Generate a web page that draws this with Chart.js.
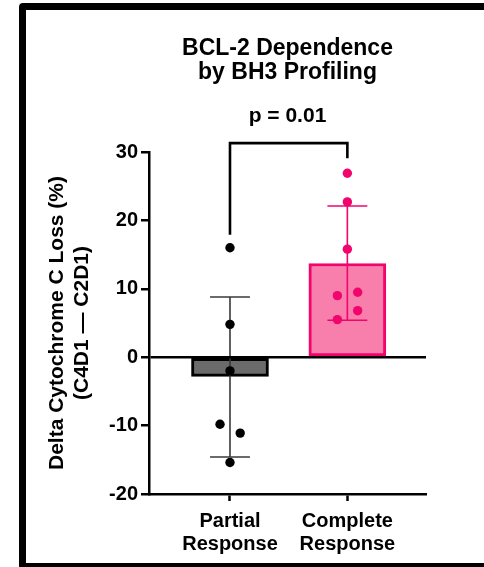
<!DOCTYPE html>
<html>
<head>
<meta charset="utf-8">
<script src="https://cdn.jsdelivr.net/npm/chart.js@4"></script>
<style>
  html, body { margin: 0; padding: 0; background: #fff; overflow: hidden; }
  #wrap { position: relative; width: 484px; height: 567px; }
  #frame { position: absolute; left: 19px; top: 3px; width: 480px; height: 567px; box-sizing: border-box;
           border: 7px solid #000; border-radius: 4px; pointer-events: none; }
  canvas { position: absolute; left: 0; top: 0; }
</style>
</head>
<body>
<div id="wrap">
  <canvas id="chart" width="484" height="567"></canvas>
  <div id="frame"></div>
</div>
<script>
// groupes
const groupLabels = [['Partial', 'Response'], ['Complete', 'Response']];
const groupPos = [1, 2];

// moyennes (barres) et écart-type
const barMeans = [-2.8, 13.7];
const errLow = [-14.6, 5.4];
const errHigh = [8.8, 22.1];

// points individuels
const partialY = [16.0, 4.8, -2.0, -9.8, -11.1, -15.4];
const partialX = [1, 1, 1, 0.915, 1.087, 1];
const completeY = [26.9, 22.7, 15.8, 9.5, 9.0, 6.8, 5.5];
const completeX = [2, 2, 2, 2.088, 1.915, 2.088, 1.915];

// crochet de significativité
const bracketX = [1, 1, 2, 2];
const bracketY = [17.9, 31.3, 31.3, 29.1];
const pText = 'p = 0.01';

const yTicks = [-20, -10, 0, 10, 20, 30];

const GRAY = '#6b6b6b';
const PINK = '#f87fab';
const HOTPINK = '#f2046d';
const FONT = 'Liberation Sans, Arial, sans-serif';

const capHalf = 0.17;

function errorSegments(i) {
    const x = groupPos[i];
    return [
        {x: x - capHalf, y: errLow[i]}, {x: x + capHalf, y: errLow[i]}, {x: x, y: null},
        {x: x, y: errLow[i]}, {x: x, y: errHigh[i]}, {x: x, y: null},
        {x: x - capHalf, y: errHigh[i]}, {x: x + capHalf, y: errHigh[i]}
    ];
}

const ctx = document.getElementById('chart').getContext('2d');
new Chart(ctx, {
    type: 'bar',
    data: {
        datasets: [
            {
                type: 'line', order: 0, clip: false,
                data: bracketX.map((x, i) => ({x, y: bracketY[i]})),
                borderColor: '#000', borderWidth: 2.6, pointRadius: 0, tension: 0,
                borderJoinStyle: 'miter', fill: false
            },
            {
                type: 'scatter', order: 0,
                data: partialY.map((y, i) => ({x: partialX[i], y})),
                backgroundColor: '#000', borderWidth: 0, pointRadius: 4.7
            },
            {
                type: 'scatter', order: 0,
                data: completeY.map((y, i) => ({x: completeX[i], y})),
                backgroundColor: HOTPINK, borderWidth: 0, pointRadius: 4.7
            },
            {
                type: 'line', order: 1, spanGaps: false,
                data: errorSegments(0),
                borderColor: '#3a3a3a', borderWidth: 1.6, pointRadius: 0, fill: false
            },
            {
                type: 'line', order: 1, spanGaps: false,
                data: errorSegments(1),
                borderColor: HOTPINK, borderWidth: 1.6, pointRadius: 0, fill: false
            },
            {
                type: 'bar', order: 2,
                data: barMeans.map((y, i) => ({x: groupPos[i], y})),
                backgroundColor: [GRAY, PINK],
                borderColor: ['#000', HOTPINK],
                borderWidth: 3, borderSkipped: false,
                barThickness: 77
            }
        ]
    },
    options: {
        responsive: false,
        animation: false,
        devicePixelRatio: 1,
        layout: { padding: { left: 30, right: 58, top: 10, bottom: 10 } },
        plugins: {
            legend: { display: false },
            tooltip: { enabled: false },
            title: {
                display: true, fullSize: false,
                text: ['BCL-2 Dependence', 'by BH3 Profiling'],
                color: '#000',
                font: { family: FONT, size: 23, weight: 'bold', lineHeight: '24px' },
                padding: { top: 27, bottom: 0 }
            },
            subtitle: {
                display: true, fullSize: false,
                text: pText,
                color: '#000',
                font: { family: FONT, size: 21, weight: 'bold', lineHeight: '22px' },
                padding: { top: 20, bottom: 25 }
            }
        },
        scales: {
            x: {
                type: 'linear', min: 0.31, max: 2.67, offset: false,
                afterBuildTicks: (scale) => { scale.ticks = groupPos.map(v => ({value: v})); },
                afterFit: (scale) => { scale.height = 63; },
                ticks: {
                    autoSkip: false, color: '#000', padding: 9,
                    font: { family: FONT, size: 20, weight: 'bold', lineHeight: '23px' },
                    callback: (v) => groupLabels[groupPos.indexOf(v)]
                },
                grid: { offset: false, drawOnChartArea: false, tickLength: 7, tickColor: '#000', tickWidth: 2.5 },
                border: { color: '#000', width: 2.5 }
            },
            y: {
                min: -20, max: 30,
                afterBuildTicks: (scale) => { scale.ticks = yTicks.map(v => ({value: v})); },
                afterFit: (scale) => { scale.width = 119; },
                ticks: {
                    color: '#000', padding: 3,
                    font: { family: FONT, size: 20, weight: 'bold' }
                },
                grid: {
                    z: 1,
                    color: (c) => c.tick && c.tick.value === 0 ? '#000' : 'rgba(0,0,0,0)',
                    lineWidth: 2.5, tickLength: 8, tickColor: '#000', tickWidth: 2.5
                },
                border: { color: '#000', width: 2.5, z: 2 },
                title: {
                    display: true,
                    text: ['Delta Cytochrome C Loss (%)', '(C4D1 \u2014 C2D1)'],
                    color: '#000',
                    font: { family: FONT, size: 21, weight: 'bold', lineHeight: '25px' },
                    padding: { top: 15, bottom: 0 }
                }
            }
        }
    }
});
</script>
</body>
</html>
